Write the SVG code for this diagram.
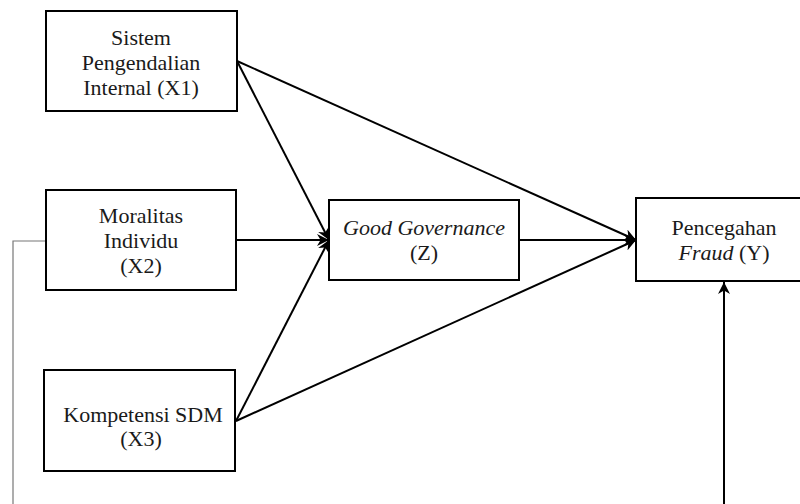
<svg xmlns="http://www.w3.org/2000/svg" width="800" height="504" viewBox="0 0 800 504">
<style>
.box{fill:#fff;stroke:#000;stroke-width:2}
.t{font-family:"Liberation Serif","Times New Roman",serif;font-size:22px;fill:#1a1a1a;text-anchor:middle}
.c{stroke:#000;stroke-width:2;fill:none}
.thin{stroke:#777;stroke-width:1.2;fill:none}
</style>
<defs>
<marker id="ah" viewBox="0 0 10 10" refX="10" refY="5" markerWidth="12" markerHeight="12" markerUnits="userSpaceOnUse" orient="auto">
<path d="M0,0 L10,5 L0,10 L3,5 Z" fill="#000"/>
</marker>
</defs>
<rect width="800" height="504" fill="#fff"/>
<g id="connectors">
<line class="c" x1="237" y1="61" x2="329" y2="240" marker-end="url(#ah)"/>
<line class="c" x1="237" y1="61" x2="636" y2="240" marker-end="url(#ah)"/>
<line class="c" x1="236" y1="240" x2="329" y2="240" marker-end="url(#ah)"/>
<line class="c" x1="236" y1="421" x2="329" y2="240" marker-end="url(#ah)"/>
<line class="c" x1="236" y1="421" x2="636" y2="240" marker-end="url(#ah)"/>
<line class="c" x1="519" y1="240" x2="636" y2="240" marker-end="url(#ah)"/>
<line class="c" x1="724" y1="504" x2="724" y2="282" marker-end="url(#ah)"/>
<polyline class="thin" points="46,241 13,241 13,504"/>
</g>
<g id="x1">
<rect class="box" x="46" y="11" width="191" height="100"/>
<text class="t" x="141" y="45">Sistem</text>
<text class="t" x="141" y="70">Pengendalian</text>
<text class="t" x="141" y="95">Internal (X1)</text>
</g>
<g id="x2">
<rect class="box" x="46" y="190" width="190" height="100"/>
<text class="t" x="141" y="223">Moralitas</text>
<text class="t" x="141" y="248">Individu</text>
<text class="t" x="141" y="273">(X2)</text>
</g>
<g id="x3">
<rect class="box" x="44" y="370" width="191" height="101"/>
<text class="t" x="143" y="422">Kompetensi SDM</text>
<text class="t" x="141" y="446">(X3)</text>
</g>
<g id="z">
<rect class="box" x="329" y="200" width="190" height="80"/>
<text class="t" x="424" y="235" font-style="italic">Good Governance</text>
<text class="t" x="424" y="260">(Z)</text>
</g>
<g id="y">
<rect class="box" x="636" y="198" width="176" height="83"/>
<text class="t" x="724" y="235">Pencegahan</text>
<text class="t" x="724" y="260"><tspan font-style="italic">Fraud</tspan> (Y)</text>
</g>
</svg>
